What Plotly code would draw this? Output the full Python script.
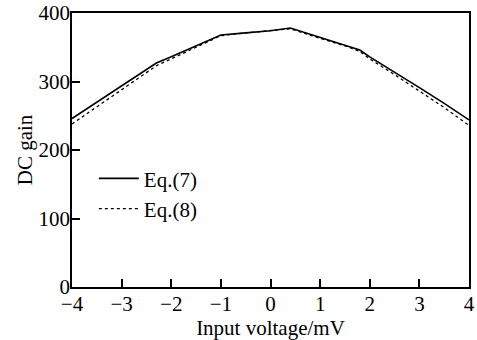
import plotly.graph_objects as go

x_vals = [-4, -3.5, -3, -2.5, -2.3, -2, -1.5, -1, -0.5, 0, 0.4, 1, 1.5, 1.8, 2, 2.5, 3, 3.5, 4]
eq7 = [246, 270, 294, 318, 327, 336, 352, 368, 371, 374, 378, 364, 353, 346, 336, 314, 291, 268, 244]
eq8 = [238, 263, 288, 313, 323, 333, 350, 367, 371, 374, 377, 363, 352, 344, 333, 310, 286, 262, 236]
names = ["Eq.(7)", "Eq.(8)"]
x_ticks = [-4, -3, -2, -1, 0, 1, 2, 3, 4]
y_ticks = [0, 100, 200, 300, 400]

font = dict(family="Liberation Serif", size=21, color="black")

fig = go.Figure()
fig.add_trace(go.Scatter(x=x_vals, y=eq7, mode="lines", name=names[0],
                         line=dict(color="black", width=1.6)))
fig.add_trace(go.Scatter(x=x_vals, y=eq8, mode="lines", name=names[1],
                         line=dict(color="black", width=1.3, dash="dot")))

axis_common = dict(showline=True, linecolor="black", linewidth=1.5, mirror=True,
                   ticks="inside", ticklen=8, tickwidth=1.5, tickcolor="black",
                   showgrid=False, zeroline=False, tickfont=font, automargin=False)

fig.update_layout(
    width=477, height=340,
    margin=dict(l=72, r=8, t=13, b=53),
    paper_bgcolor="white", plot_bgcolor="white",
    font=font,
    xaxis=dict(range=[-4, 4], tickvals=x_ticks, ticklabelstandoff=-3,
               title=dict(text="Input voltage/mV", font=font, standoff=4), **axis_common),
    yaxis=dict(range=[0, 400], tickvals=y_ticks, ticklabelstandoff=-4,
               title=dict(text="DC gain", font=font, standoff=0), **axis_common),
    legend=dict(x=0.055, y=0.47, xanchor="left", yanchor="top",
                bgcolor="rgba(0,0,0,0)", font=font, tracegroupgap=0,
                itemwidth=40),
    showlegend=True,
)

fig.write_html("out.html")
